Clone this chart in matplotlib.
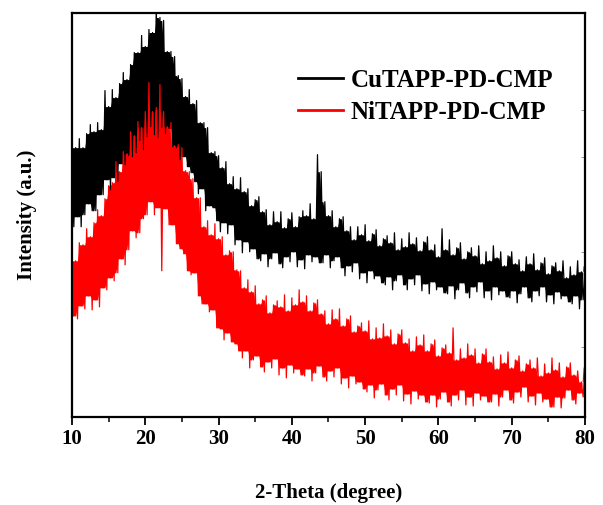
import numpy as np
import matplotlib
matplotlib.use("Agg")
import matplotlib.pyplot as plt
from matplotlib.ticker import MultipleLocator

TWO_THETA_START = 10.0
TWO_THETA_STEP = 0.25

series_labels = ["CuTAPP-PD-CMP", "NiTAPP-PD-CMP"]
series_colors = ["black", "red"]

cu_counts = [
    277, 190, 269, 200, 278, 190, 269, 202, 283, 213, 292, 206, 285, 206, 294, 222, 287, 222, 326, 237,
    310, 227, 327, 239, 319, 235, 333, 253, 344, 252, 337, 261, 352, 260, 364, 264, 364, 276, 381, 267,
    370, 280, 387, 290, 384, 282, 410, 279, 399, 289, 396, 283, 365, 288, 365, 270, 360, 269, 341, 257,
    338, 260, 320, 250, 327, 244, 313, 235, 316, 223, 294, 228, 294, 206, 289, 211, 264, 209, 265, 196,
    261, 185, 249, 194, 255, 183, 233, 192, 240, 172, 228, 177, 239, 164, 225, 175, 228, 165, 211, 168,
    217, 158, 220, 156, 205, 163, 207, 150, 192, 158, 205, 164, 195, 153, 205, 149, 189, 160, 198, 155,
    204, 165, 190, 150, 200, 157, 206, 148, 201, 162, 213, 155, 198, 160, 262, 154, 245, 154, 215, 162,
    201, 149, 206, 156, 190, 160, 198, 149, 200, 141, 186, 151, 190, 145, 177, 154, 190, 138, 182, 144,
    192, 134, 176, 146, 183, 138, 187, 141, 171, 134, 178, 132, 181, 140, 174, 127, 184, 136, 167, 142,
    178, 132, 170, 127, 184, 138, 173, 132, 179, 142, 166, 126, 175, 133, 180, 123, 167, 135, 172, 127,
    160, 130, 188, 124, 167, 123, 177, 131, 162, 118, 169, 127, 174, 134, 158, 124, 165, 119, 169, 130,
    161, 125, 171, 135, 153, 119, 165, 126, 156, 117, 171, 130, 159, 122, 165, 126, 151, 120, 161, 119,
    165, 126, 153, 114, 157, 123, 146, 130, 160, 119, 153, 115, 163, 126, 147, 121, 154, 130, 159, 115,
    143, 122, 151, 113, 154, 125, 146, 118, 156, 121, 139, 115, 150, 113, 142, 121, 156, 108, 145, 117,
    151,
]

ni_counts = [
    163, 101, 156, 98, 174, 111, 172, 108, 188, 121, 180, 107, 194, 117, 207, 110, 201, 129, 218, 127,
    231, 139, 234, 136, 255, 144, 245, 158, 265, 152, 263, 167, 285, 186, 281, 179, 295, 184, 289, 198,
    305, 202, 334, 215, 305, 202, 309, 209, 332, 146, 305, 208, 290, 192, 294, 192, 271, 173, 272, 168,
    269, 163, 246, 146, 245, 142, 238, 144, 219, 121, 219, 113, 190, 113, 196, 105, 182, 107, 193, 89,
    178, 88, 180, 77, 162, 84, 166, 75, 165, 73, 147, 66, 146, 59, 129, 66, 137, 49, 125, 57,
    131, 61, 113, 50, 117, 45, 121, 55, 104, 49, 112, 58, 116, 42, 110, 49, 122, 39, 106, 52,
    119, 44, 112, 48, 127, 42, 115, 41, 121, 48, 106, 36, 114, 44, 117, 51, 103, 40, 106, 36,
    93, 46, 107, 40, 98, 49, 108, 33, 91, 39, 98, 29, 101, 41, 85, 33, 91, 35, 94, 28,
    86, 25, 96, 32, 78, 19, 89, 27, 79, 33, 93, 22, 81, 17, 87, 28, 73, 22, 83, 32,
    87, 16, 74, 23, 78, 13, 66, 26, 80, 18, 72, 22, 82, 15, 66, 14, 73, 22, 77, 10,
    61, 18, 69, 25, 72, 15, 64, 11, 89, 22, 57, 17, 68, 27, 59, 12, 73, 20, 62, 11,
    68, 24, 54, 17, 63, 21, 68, 15, 55, 15, 60, 23, 48, 11, 62, 20, 54, 27, 65, 17,
    49, 14, 57, 25, 61, 20, 46, 30, 53, 15, 57, 21, 49, 12, 59, 24, 41, 15, 53, 18,
    44, 10, 59, 10, 47, 20, 54, 9, 40, 19, 50, 27, 54, 17, 42, 13, 46, 24, 35, 20,
    50,
]

x_ticks = [10, 20, 30, 40, 50, 60, 70, 80]
right_ticks = [307, 260, 165, 70]

two_theta = TWO_THETA_START + TWO_THETA_STEP * np.arange(len(cu_counts))

plt.rcParams['font.family'] = ['Liberation Serif', 'DejaVu Serif']
plt.rcParams['font.weight'] = 'bold'

fig = plt.figure(figsize=(6.03, 5.05), dpi=100)
ax = fig.add_axes([0.1194, 0.1743, 0.8507, 0.7990])

for counts, label, color in zip([cu_counts, ni_counts], series_labels, series_colors):
    c = np.asarray(counts, dtype=float)
    nxt = np.r_[c[1:], c[-1]]
    hi = np.maximum(c, nxt)
    lo = np.minimum(c, nxt)
    # solid core of the dense scan (inner envelope), the sampled line gives the spikes
    core_hi = np.minimum(hi, np.minimum(np.r_[hi[0], hi[:-1]], np.r_[hi[1:], hi[-1]]))
    core_lo = np.maximum(lo, np.maximum(np.r_[lo[0], lo[:-1]], np.r_[lo[1:], lo[-1]]))
    ax.fill_between(two_theta, core_lo, core_hi, color=color, lw=0)
    ax.plot(two_theta, c, color=color, lw=0.9, label=label)

ax.set_xlim(10, 80)
ax.set_ylim(0, 403)
ax.set_xticks(x_ticks)
ax.xaxis.set_minor_locator(MultipleLocator(5))
ax.tick_params(axis='x', which='major', direction='out', length=6, width=1.3,
               labelsize=15, pad=3)
ax.tick_params(axis='x', which='minor', direction='out', length=3.5, width=1.1)

# only faint inward ticks on the right spine, no y labels
ax.set_yticks(right_ticks)
ax.tick_params(axis='y', which='both', left=False, labelleft=False, right=True,
               direction='in', length=3, width=0.6, color='0.5')

for sp in ax.spines.values():
    sp.set_linewidth(1.6)

ax.set_xlabel('2-Theta (degree)', fontsize=15, fontweight='bold', labelpad=24)
ax.set_ylabel('Intensity (a.u.)', fontsize=15, fontweight='bold', labelpad=25)

leg = ax.legend(loc='center left', bbox_to_anchor=(0.4405, 0.794), frameon=False,
                fontsize=18, handlelength=1.8, handletextpad=0.3, labelspacing=0.35,
                borderpad=0, borderaxespad=0)
for line in leg.get_lines():
    line.set_linewidth(2.0)

fig.savefig('out.png', dpi=100)
